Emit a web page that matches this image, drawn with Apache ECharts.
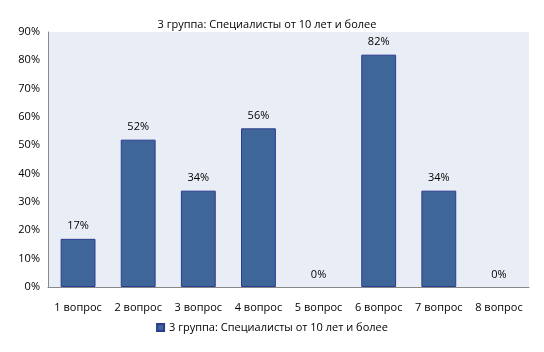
<!DOCTYPE html>
<html>
<head>
<meta charset="utf-8">
<script src="https://cdn.jsdelivr.net/npm/echarts@6/dist/echarts.min.js"></script>
<style>
  html, body { margin: 0; padding: 0; background: #fff; }
  #chart { width: 544px; height: 352px; }
</style>
</head>
<body>
<div id="chart"></div>
<script>
var seriesName = '3 группа: Специалисты от 10 лет и более'
var categories = ['1 вопрос', '2 вопрос', '3 вопрос', '4 вопрос', '5 вопрос', '6 вопрос', '7 вопрос', '8 вопрос']
var values = [17, 52, 34, 56, 0, 82, 34, 0]

var myChart = echarts.init(document.getElementById('chart'))
var font = 'Open Sans, Noto Sans, sans-serif'

// zero bars are invisible in the original, only their label shows
var barData = values.map(function (v) {
  return v === 0 ? { value: v, itemStyle: { borderWidth: 0, opacity: 0 } } : v
})

var option = {
  animation: false,
  textStyle: { fontFamily: font },
  title: {
    text: seriesName,
    left: 262,
    textAlign: 'center',
    top: 14,
    textStyle: { color: '#000', fontSize: 11, fontWeight: 'normal', fontFamily: font }
  },
  grid: {
    left: 48,
    right: 15,
    top: 32,
    bottom: 65,
    show: true,
    backgroundColor: '#e9edf5',
    borderWidth: 0
  },
  legend: {
    data: [seriesName],
    bottom: 14,
    left: 'center',
    itemWidth: 7,
    itemHeight: 7,
    itemGap: 4,
    icon: 'rect',
    textStyle: { color: '#000', fontSize: 11, fontFamily: font }
  },
  xAxis: {
    type: 'category',
    data: categories,
    axisLine: { lineStyle: { color: '#888', width: 1 } },
    axisTick: { show: false },
    axisLabel: { color: '#000', fontSize: 11, margin: 15, interval: 0 }
  },
  yAxis: {
    type: 'value',
    min: 0,
    max: 90,
    interval: 10,
    axisLine: { show: true, lineStyle: { color: '#888', width: 1 } },
    axisTick: { show: false },
    splitLine: { show: false },
    axisLabel: { color: '#000', fontSize: 11, margin: 8, formatter: '{value}%' }
  },
  series: [
    {
      name: seriesName,
      type: 'bar',
      data: barData,
      barWidth: '58%',
      itemStyle: {
        color: '#3f6699',
        borderColor: '#2b3b8f',
        borderWidth: 1
      },
      label: {
        show: true,
        position: 'top',
        distance: 7,
        color: '#000',
        fontSize: 11,
        opacity: 1,
        formatter: '{c}%'
      }
    }
  ]
}
option && myChart.setOption(option)
</script>
</body>
</html>
